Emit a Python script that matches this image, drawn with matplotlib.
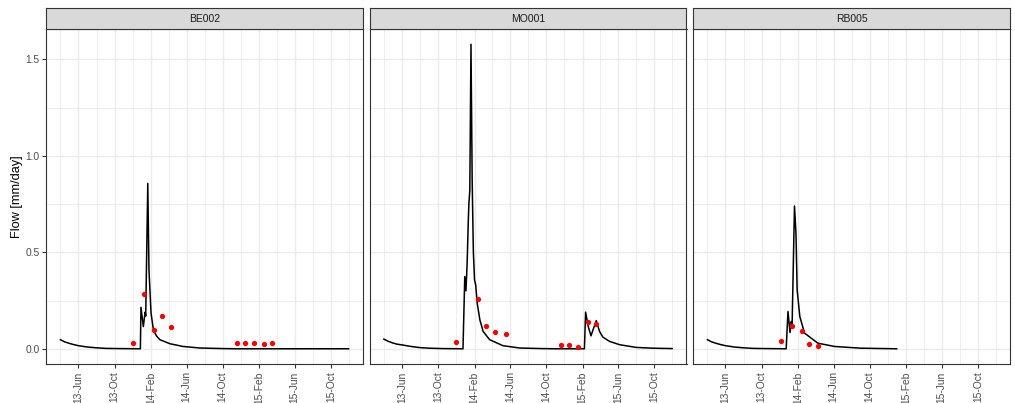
import matplotlib
matplotlib.use("Agg")
import matplotlib.pyplot as plt
import matplotlib.dates as mdates
import pandas as pd

plt.rcParams['font.family'] = ['Liberation Sans', 'DejaVu Sans']

stations = ["BE002", "MO001", "RB005"]

# ---- simulated flow (line vertices) ----
be002_sim_dates = ["2013-04-01", "2013-04-15", "2013-05-01", "2013-05-15", "2013-06-01",
                   "2013-07-01", "2013-08-01", "2013-09-01", "2013-10-15", "2013-12-27",
                   "2013-12-29", "2014-01-06", "2014-01-12", "2014-01-14", "2014-01-21",
                   "2014-01-25", "2014-02-01", "2014-02-09", "2014-02-20", "2014-03-03",
                   "2014-04-06", "2014-05-20", "2014-07-16", "2014-10-01", "2014-11-15",
                   "2015-11-30"]
be002_sim_flow = [0.047, 0.036, 0.028, 0.022, 0.016,
                  0.009, 0.005, 0.002, 0.001, 0.000,
                  0.215, 0.115, 0.190, 0.170, 0.857,
                  0.410, 0.185, 0.098, 0.065, 0.047,
                  0.026, 0.012, 0.004, 0.001, 0.000,
                  0.000]

mo001_sim_dates = ["2013-04-01", "2013-04-15", "2013-05-01", "2013-05-15", "2013-06-05",
                   "2013-07-01", "2013-08-01", "2013-09-01", "2013-10-15", "2013-12-24",
                   "2013-12-30", "2014-01-03", "2014-01-07", "2014-01-11", "2014-01-13",
                   "2014-01-16", "2014-01-20", "2014-01-24", "2014-01-28", "2014-02-01",
                   "2014-02-05", "2014-02-10", "2014-02-19", "2014-03-02", "2014-03-24",
                   "2014-05-08", "2014-07-03", "2014-09-15", "2014-11-01", "2015-02-07",
                   "2015-02-11", "2015-02-20", "2015-03-01", "2015-03-19", "2015-03-30",
                   "2015-04-10", "2015-05-03", "2015-06-06", "2015-08-01", "2015-09-26",
                   "2015-11-30"]
mo001_sim_flow = [0.050, 0.039, 0.030, 0.024, 0.019,
                  0.012, 0.006, 0.003, 0.001, 0.000,
                  0.374, 0.300, 0.443, 0.667, 0.754,
                  0.820, 1.578, 0.874, 0.503, 0.357,
                  0.330, 0.236, 0.150, 0.090, 0.047,
                  0.016, 0.004, 0.001, 0.000, 0.000,
                  0.190, 0.115, 0.067, 0.146, 0.090,
                  0.061, 0.038, 0.021, 0.007, 0.003,
                  0.001]

rb005_sim_dates = ["2013-04-01", "2013-04-15", "2013-05-01", "2013-05-15", "2013-06-01",
                   "2013-07-01", "2013-08-01", "2013-09-01", "2013-10-15", "2013-12-23",
                   "2013-12-29", "2014-01-05", "2014-01-09", "2014-01-12", "2014-01-20",
                   "2014-01-25", "2014-01-29", "2014-02-07", "2014-02-23", "2014-04-09",
                   "2014-06-04", "2014-09-01", "2014-12-31"]
rb005_sim_flow = [0.047, 0.036, 0.028, 0.022, 0.016,
                  0.009, 0.005, 0.002, 0.001, 0.000,
                  0.193, 0.084, 0.141, 0.125, 0.740,
                  0.598, 0.305, 0.167, 0.081, 0.029,
                  0.012, 0.003, 0.000]

# ---- observed flow (red points) ----
be002_obs_dates = ["2013-12-03", "2014-01-09", "2014-02-12", "2014-03-10", "2014-04-09",
                   "2014-11-19", "2014-12-16", "2015-01-14", "2015-02-18", "2015-03-18"]
be002_obs_flow = [0.030, 0.283, 0.095, 0.171, 0.112,
                  0.030, 0.030, 0.030, 0.024, 0.031]

mo001_obs_dates = ["2013-12-02", "2014-02-14", "2014-03-12", "2014-04-10", "2014-05-19",
                   "2014-11-19", "2014-12-16", "2015-01-15", "2015-02-19", "2015-03-19"]
mo001_obs_flow = [0.035, 0.257, 0.117, 0.088, 0.078,
                  0.022, 0.017, 0.010, 0.138, 0.129]

rb005_obs_dates = ["2013-12-04", "2014-01-11", "2014-02-13", "2014-03-11", "2014-04-09"]
rb005_obs_flow = [0.038, 0.119, 0.090, 0.024, 0.014]

sim = {
    "BE002": (be002_sim_dates, be002_sim_flow),
    "MO001": (mo001_sim_dates, mo001_sim_flow),
    "RB005": (rb005_sim_dates, rb005_sim_flow),
}
obs = {
    "BE002": (be002_obs_dates, be002_obs_flow),
    "MO001": (mo001_obs_dates, mo001_obs_flow),
    "RB005": (rb005_obs_dates, rb005_obs_flow),
}

x_major = ["2013-06-01", "2013-10-01", "2014-02-01", "2014-06-01",
           "2014-10-01", "2015-02-01", "2015-06-01", "2015-10-01"]
x_minor = ["2013-04-01", "2013-08-01", "2013-12-01", "2014-04-01",
           "2014-08-01", "2014-12-01", "2015-04-01", "2015-08-01", "2015-12-01"]
y_major = [0.0, 0.5, 1.0, 1.5]
y_minor = [0.25, 0.75, 1.25]

# ---- layout (pixels) ----
W, H = 1015, 403
fig = plt.figure(figsize=(W / 100, H / 100), dpi=100)
lefts = [46, 369.5, 693]
pw = 317
top, bottom = 29, 364
strip_top = 8

border = '#333333'
grid_c = '#EBEBEB'

axes = []
for i, st in enumerate(stations):
    kw = {}
    if axes:
        kw = dict(sharex=axes[0], sharey=axes[0])
    ax = fig.add_axes([lefts[i] / W, 1 - bottom / H, pw / W, (bottom - top) / H], **kw)
    axes.append(ax)
    d, v = sim[st]
    ax.plot(pd.to_datetime(d), v, color='black', lw=1.1, zorder=3)
    od, ov = obs[st]
    ax.plot(pd.to_datetime(od), ov, 'o', color='#FF0000', ms=3.8, mew=0, zorder=4)

    ax.set_axisbelow(True)
    ax.set_facecolor('white')
    for s in ax.spines.values():
        s.set_color(border)
        s.set_linewidth(0.8)

    # strip
    sax = fig.add_axes([lefts[i] / W, 1 - top / H, pw / W, (top - strip_top) / H])
    sax.set_facecolor('#D9D9D9')
    sax.set_xticks([])
    sax.set_yticks([])
    for s in sax.spines.values():
        s.set_color(border)
        s.set_linewidth(0.8)
    sax.text(0.5, 0.5, st, ha='center', va='center', fontsize=7.5,
             color='#1A1A1A', transform=sax.transAxes)

ax0 = axes[0]
ax0.set_xticks(pd.to_datetime(x_major))
ax0.set_xticks(pd.to_datetime(x_minor), minor=True)
ax0.xaxis.set_major_formatter(mdates.DateFormatter('%y-%b'))
ax0.set_yticks(y_major)
ax0.set_yticks(y_minor, minor=True)
ax0.yaxis.set_major_formatter(matplotlib.ticker.FormatStrFormatter('%.1f'))

for i, ax in enumerate(axes):
    ax.grid(which='major', color=grid_c, lw=1.0)
    ax.grid(which='minor', color=grid_c, lw=0.6)
    ax.tick_params(which='minor', length=0)
    ax.tick_params(axis='x', which='major', length=2.9, width=0.8, color=border,
                   labelsize=7.4, labelcolor='#4D4D4D', labelrotation=90, pad=2.4)
    if i == 0:
        ax.tick_params(axis='y', which='major', length=2.9, width=0.8, color=border,
                       labelsize=7.4, labelcolor='#4D4D4D', pad=1.8)
    else:
        ax.tick_params(axis='y', which='both', left=False, labelleft=False)

fig.text(16.7 / W, 1 - ((top + bottom) / 2) / H, "Flow [mm/day]", rotation=90,
         ha='center', va='center', fontsize=9.2, color='black')

fig.savefig("out.png", dpi=100, facecolor='white')
